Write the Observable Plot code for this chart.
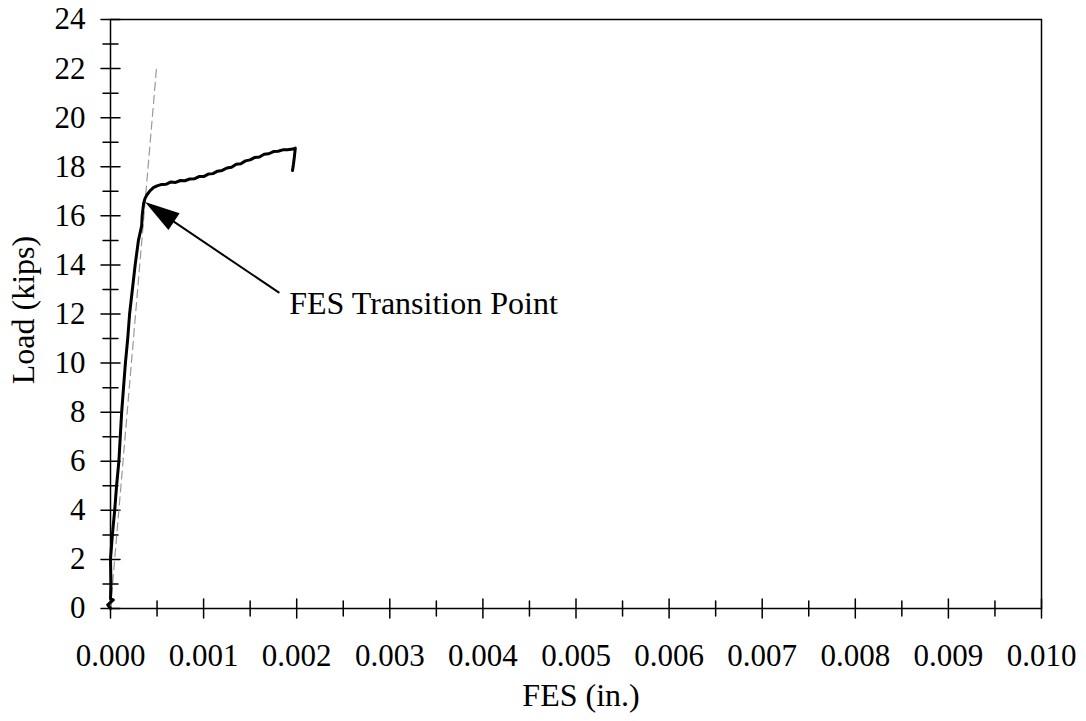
<!DOCTYPE html>
<html>
<head>
<meta charset="utf-8">
<script src="https://cdn.jsdelivr.net/npm/d3@7"></script>
<script src="https://cdn.jsdelivr.net/npm/@observablehq/plot@0.6"></script>
<style>
  html, body { margin: 0; padding: 0; background: #fff; }
  #chart svg { display: block; }
</style>
</head>
<body>
<div id="chart"></div>
<script>
// FES (in.) and Load (kips)
const fes = [0.000000, -0.000030, 0.000030, 0.000000, 0.000005, 0.000000, 0.000020, 0.000045, 0.000065, 0.000090,
  0.000105, 0.000120, 0.000140, 0.000160, 0.000185, 0.000205, 0.000235, 0.000265, 0.000300, 0.000335,
  0.000340, 0.000355, 0.000370, 0.000390, 0.000420, 0.000460, 0.000500, 0.000550, 0.000600, 0.000650,
  0.000700, 0.000750, 0.000800, 0.000850, 0.000900, 0.000950, 0.001000, 0.001050, 0.001100, 0.001150,
  0.001200, 0.001250, 0.001300, 0.001350, 0.001400, 0.001450, 0.001500, 0.001550, 0.001600, 0.001650,
  0.001700, 0.001750, 0.001800, 0.001850, 0.001900, 0.001960, 0.001985, 0.001975, 0.001965, 0.001955];
const load = [0.00, 0.15, 0.35, 0.40, 1.00, 2.00, 3.00, 4.00, 5.00, 6.00,
  7.00, 8.00, 9.00, 10.00, 11.00, 12.00, 13.00, 14.00, 15.00, 15.60,
  16.00, 16.50, 16.70, 16.85, 17.00, 17.15, 17.22, 17.28, 17.29, 17.38,
  17.36, 17.44, 17.43, 17.50, 17.51, 17.60, 17.60, 17.70, 17.72, 17.82,
  17.85, 17.95, 17.98, 18.10, 18.12, 18.24, 18.28, 18.38, 18.40, 18.51,
  18.53, 18.62, 18.63, 18.69, 18.69, 18.72, 18.76, 18.40, 18.10, 17.85];

// dashed reference (elastic) line
const refFes = [0.000000, 0.000495];
const refLoad = [0.00, 22.06];

// tick values
const xMajor = [0, 0.001, 0.002, 0.003, 0.004, 0.005, 0.006, 0.007, 0.008, 0.009, 0.010];
const xMinor = [0.0005, 0.0015, 0.0025, 0.0035, 0.0045, 0.0055, 0.0065, 0.0075, 0.0085, 0.0095];
const yMajor = [0, 2, 4, 6, 8, 10, 12, 14, 16, 18, 20, 22, 24];
const yMinor = [1, 3, 5, 7, 9, 11, 13, 15, 17, 19, 21, 23];

// annotation
const annText = "FES Transition Point";
const annTextPos = [0.00192, 12.43];
const arrowTail = [0.001806, 12.88];
const arrowTip = [0.000376, 16.54];

const curve = fes.map((x, i) => ({x, y: load[i]}));
const refLine = refFes.map((x, i) => ({x, y: refLoad[i]}));

const lineShape = { draw(context, l) { context.moveTo(0, 0); context.lineTo(0, -l); } };

const arrowHead = (index, scales) => {
  const x1 = scales.x(arrowTail[0]), y1 = scales.y(arrowTail[1]);
  const x2 = scales.x(arrowTip[0]), y2 = scales.y(arrowTip[1]);
  const a = Math.atan2(y2 - y1, x2 - x1);
  const L = 35, W = 10;
  const bx = x2 - L * Math.cos(a), by = y2 - L * Math.sin(a);
  const px = -Math.sin(a) * W, py = Math.cos(a) * W;
  const g = d3.create("svg:g");
  g.append("path")
    .attr("d", `M${x2},${y2}L${bx + px},${by + py}L${bx - px},${by - py}Z`)
    .attr("fill", "black");
  return g.node();
};

const font = "'Liberation Serif', 'Times New Roman', serif";

const chart = Plot.plot({
  width: 1086,
  height: 721,
  marginLeft: 110,
  marginRight: 45,
  marginTop: 19,
  marginBottom: 113,
  style: { fontFamily: font, fontSize: "31px", color: "black", background: "white" },
  x: { domain: [0, 0.01] },
  y: { domain: [0, 24] },
  marks: [
    Plot.frame({ stroke: "black", strokeWidth: 1.5 }),
    Plot.axisY({ ticks: yMajor, tickSize: 0, tickPadding: 25, tickFormat: d => String(d), label: null }),
    Plot.axisX({ ticks: xMajor, tickSize: 0, tickPadding: 35, tickFormat: d3.format(".3f"), label: null }),
    // y ticks crossing the axis
    Plot.vector(yMajor, { x: () => 0, y: d => d, length: 19, rotate: 90, anchor: "middle", shape: lineShape, stroke: "black", strokeWidth: 1.5 }),
    Plot.vector(yMinor, { x: () => 0, y: d => d, length: 15, rotate: 90, anchor: "middle", shape: lineShape, stroke: "black", strokeWidth: 1.5 }),
    // x ticks crossing the axis
    Plot.vector(xMajor, { x: d => d, y: () => 0, length: 19, rotate: 0, anchor: "middle", shape: lineShape, stroke: "black", strokeWidth: 1.5 }),
    Plot.vector(xMinor, { x: d => d, y: () => 0, length: 15, rotate: 0, anchor: "middle", shape: lineShape, stroke: "black", strokeWidth: 1.5 }),
    // dashed reference line
    Plot.line(refLine, { x: "x", y: "y", stroke: "#999", strokeWidth: 1.2, strokeDasharray: "8,5" }),
    // data curve
    Plot.line(curve, { x: "x", y: "y", stroke: "black", strokeWidth: 3, strokeLinejoin: "round", strokeLinecap: "round" }),
    // annotation arrow
    Plot.arrow([{ x1: arrowTail[0], y1: arrowTail[1], x2: arrowTip[0], y2: arrowTip[1] }],
      { x1: "x1", y1: "y1", x2: "x2", y2: "y2", headLength: 0, stroke: "black", strokeWidth: 2, insetEnd: 10 }),
    arrowHead,
    Plot.text([annText], { x: () => annTextPos[0], y: () => annTextPos[1], text: d => d, textAnchor: "start", lineAnchor: "middle", fontSize: 32, fill: "black" }),
    // axis titles
    Plot.text(["Load (kips)"], { frameAnchor: "left", text: d => d, rotate: -90, textAnchor: "middle", lineAnchor: "middle", dx: -87, dy: -4, fontSize: 32, fill: "black" }),
    Plot.text(["FES (in.)"], { frameAnchor: "bottom", text: d => d, textAnchor: "middle", lineAnchor: "middle", dx: 5, dy: 87, fontSize: 32, fill: "black" })
  ]
});
document.getElementById("chart").appendChild(chart);
</script>
</body>
</html>
